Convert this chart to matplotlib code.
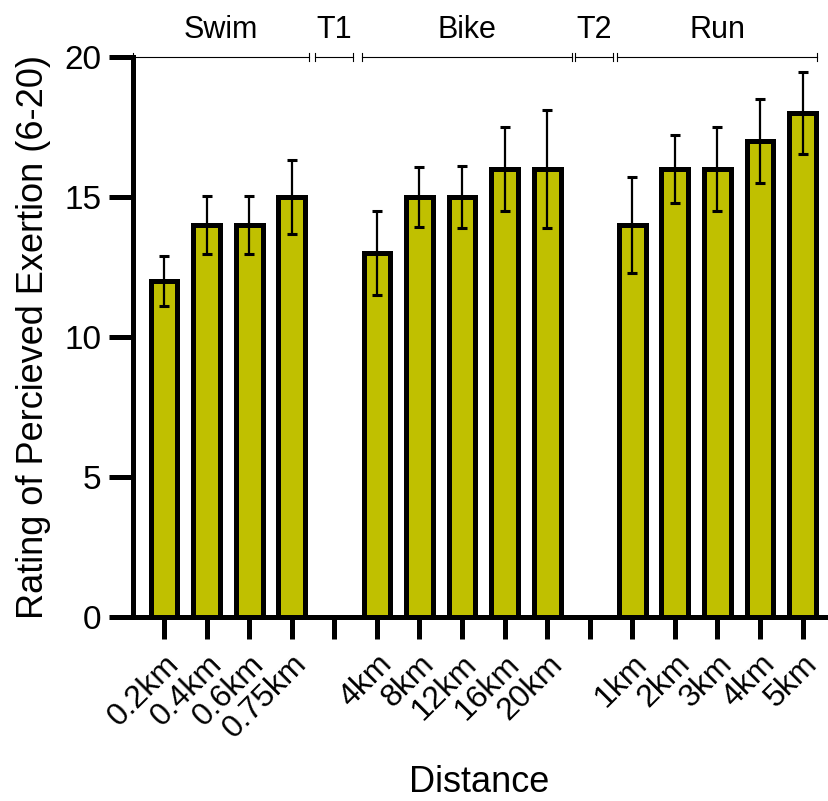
import numpy as np
import matplotlib
matplotlib.use("Agg")
import matplotlib.pyplot as plt

plt.rcParams['font.family'] = ['Liberation Sans', 'DejaVu Sans']

# ---- data ----
labels = ['0.2km', '0.4km', '0.6km', '0.75km', '',
          '4km', '8km', '12km', '16km', '20km', '',
          '1km', '2km', '3km', '4km', '5km']
means = [12, 14, 14, 15, np.nan,
         13, 15, 15, 16, 16, np.nan,
         14, 16, 16, 17, 18]
sds = [0.9, 1.05, 1.05, 1.33, np.nan,
       1.5, 1.07, 1.12, 1.5, 2.1, np.nan,
       1.7, 1.2, 1.5, 1.5, 1.45]
groups = ['Swim', 'T1', 'Bike', 'T2', 'Run']
group_spans = [(-0.73, 3.40), (3.54, 4.43), (4.64, 9.58), (9.66, 10.55), (10.65, 15.33)]

yticks = [0, 5, 10, 15, 20]

fig = plt.figure(figsize=(8.29, 8.01), dpi=100)
ax = fig.add_axes([133/829, 1 - 617/801, 693/829, 560/801])

x = np.arange(len(labels))
ax.bar(x, means, width=0.63, color='#C0C000', edgecolor='black', linewidth=3.6, zorder=2)
ax.errorbar(x, means, yerr=sds, fmt='none', ecolor='black', elinewidth=1.6,
            capsize=3.5, capthick=2.2, zorder=3)

ax.set_xlim(-0.73, 15.55)
ax.set_ylim(0, 20)
ax.set_yticks(yticks)
ax.set_xticks(x)
ax.set_xticklabels(labels, rotation=45, ha='right', rotation_mode='anchor', fontsize=23)
ax.tick_params(axis='x', length=16, width=3.6, pad=7)
ax.tick_params(axis='y', length=17.5, width=3.6, labelsize=24, pad=5)

for s in ['top', 'right']:
    ax.spines[s].set_visible(False)
for s in ['left', 'bottom']:
    ax.spines[s].set_linewidth(3.6)

ax.set_ylabel('Rating of Percieved Exertion (6-20)', fontsize=26, labelpad=10)
ax.set_xlabel('Distance', fontsize=26, labelpad=15)

# group brackets at top
ytop = 20
th = 0.14
for name, (a, b) in zip(groups, group_spans):
    ax.plot([a, b], [ytop, ytop], color='black', lw=0.8, clip_on=False, zorder=4)
    for e in (a, b):
        ax.plot([e, e], [ytop - th, ytop + th], color='black', lw=0.8, clip_on=False, zorder=4)
    ax.text((a + b) / 2, ytop + 0.95, name, ha='center', va='center', fontsize=22, clip_on=False)

fig.savefig('out.png', dpi=100)
